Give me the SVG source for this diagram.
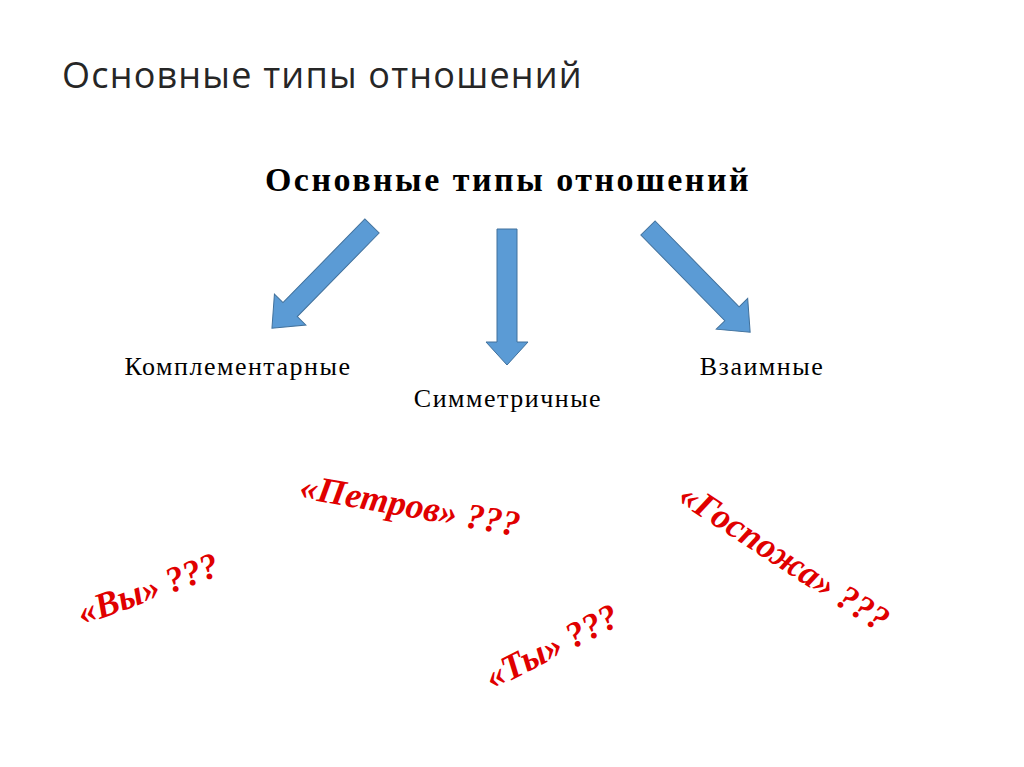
<svg xmlns="http://www.w3.org/2000/svg" width="1024" height="767" viewBox="0 0 1024 767">
<style>
.ttl{font-family:"Open Sans","Liberation Sans",sans-serif;font-size:36px;letter-spacing:1.2px;fill:#262626}
.s{font-family:"Liberation Serif",serif;fill:#000}
.r{font-family:"Liberation Serif",serif;font-style:italic;font-weight:bold;font-size:36px;fill:#e00000;text-anchor:middle}
.ar{fill:#5b9bd5;stroke:#41719c;stroke-width:1}
</style>
<rect width="1024" height="767" fill="#fff"/>
<text class="ttl" x="62" y="88">Основные типы отношений</text>
<g id="heading"><text class="s" x="508" y="191" font-size="34" font-weight="bold" letter-spacing="2.5" text-anchor="middle">Основные типы отношений</text></g>
<g id="connectors">
<polygon class="ar" transform="translate(372,226) rotate(134.4)" points="0,-10 117,-10 117,-22 143,0 117,22 117,10 0,10"/>
<polygon class="ar" transform="translate(507,229) rotate(90)" points="0,-10 113,-10 113,-21 136,0 113,21 113,10 0,10"/>
<polygon class="ar" transform="translate(648,228) rotate(45.6)" points="0,-10 120,-10 120,-22 146,0 120,22 120,10 0,10"/>
</g>
<g id="n1"><text class="s" x="238" y="375" font-size="26" letter-spacing="1.5" text-anchor="middle">Комплементарные</text></g>
<g id="n2"><text class="s" x="508" y="407" font-size="26" letter-spacing="1.5" text-anchor="middle">Симметричные</text></g>
<g id="n3"><text class="s" x="762" y="375" font-size="26" letter-spacing="1.5" text-anchor="middle">Взаимные</text></g>
<text class="r" transform="translate(152,600) rotate(-20)">«Вы» ???</text>
<text class="r" transform="translate(408,517) rotate(10)">«Петров» ???</text>
<text class="r" transform="translate(778,567) rotate(33)">«Госпожа» ???</text>
<text class="r" transform="translate(557,657) rotate(-27)">«Ты» ???</text>
</svg>
